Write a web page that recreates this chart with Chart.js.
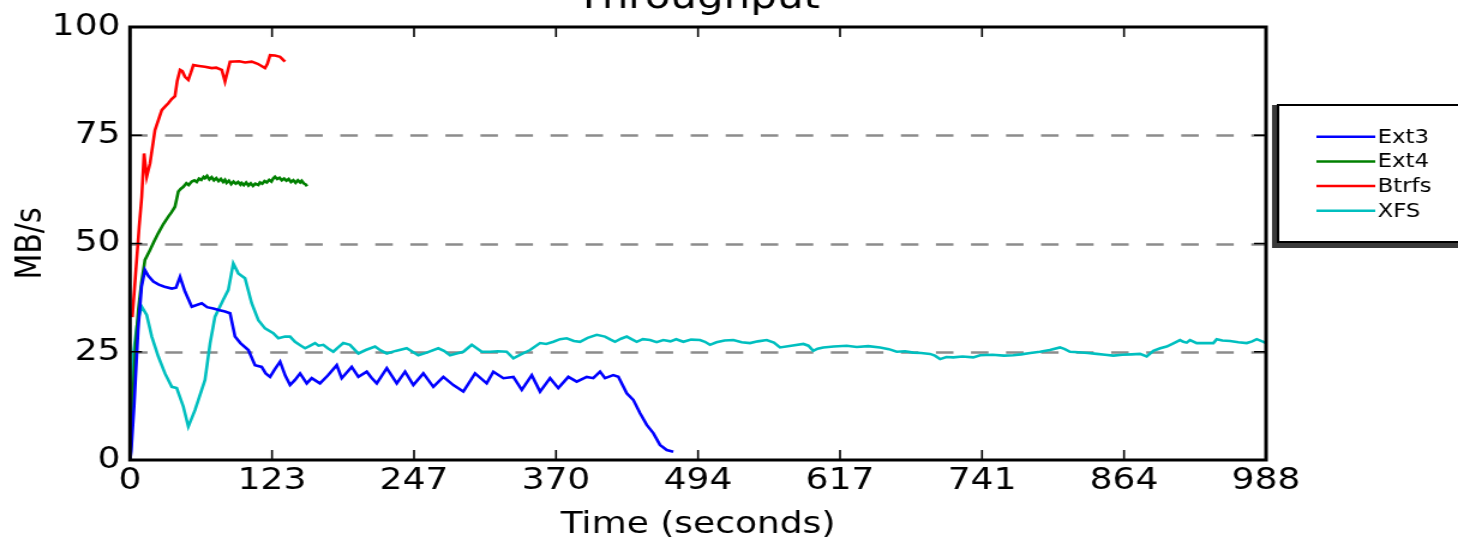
<!DOCTYPE html>
<html>
<head>
<meta charset="utf-8">
<title>Throughput</title>
<script src="https://cdn.jsdelivr.net/npm/chart.js@4/dist/chart.umd.min.js"></script>
<style>
  html, body { margin: 0; padding: 0; background: #fff; overflow: hidden; }
  #chart { display: block; }
</style>
</head>
<body>
<!-- canvas is drawn narrower and stretched, like the original figure -->
<canvas id="chart" width="1215" height="543" style="width:1458px;height:543px"></canvas>
<script>
// --- data: [seconds, MB/s] ---
var ext3 = [[0,0],[1,2],[3.5,12.3],[7,30],[10,40],[13,43.9],[16,42.5],[20.3,41.2],[25,40.5],[30,40],
  [36.3,39.6],[40,39.8],[43.5,42.3],[47.8,38.9],[53.7,35.4],[58,35.8],[62.4,36.2],[67,35.3],[72.4,35],
  [78,34.6],[82.6,34.3],[87,33.9],[91.3,28.5],[96,27],[102.9,25.4],[108.7,21.9],[114.5,21.5],[118,20],
  [121.8,19.2],[126,21],[130.5,22.7],[135,19.5],[139.2,17.3],[143.5,18.5],[147.9,20],[153.7,17.7],
  [158,18.9],[165.2,17.7],[172,19.5],[179.8,21.9],[184.1,18.9],[192.8,21.5],[198.6,19.2],[205.9,20.4],
  [210,19],[214.6,17.7],[223.3,21.2],[232,17.7],[239.2,20.4],[246.4,17.3],[255.1,20],[263.8,16.9],
  [272.5,19.2],[281.2,17.3],[289.9,15.8],[300.1,20],[310.2,17.7],[316,20.4],[324.7,18.9],[333.4,19.2],
  [340.7,16.2],[349.4,19.6],[356.6,15.8],[365.3,18.9],[372.5,16.6],[381.2,19.2],[388.5,18.1],[397.2,19.2],
  [402.9,18.9],[408.8,20.4],[413.1,18.9],[420.3,19.6],[424.7,19.2],[432,15.4],[437.7,13.9],[443.6,10.8],
  [449.4,8.1],[455.1,6.2],[460.9,3.5],[466.8,2.3],[472.5,1.9]];

var ext4 = [[0,0],[1,5],[3,17],[5,27],[7.2,34.6],[10,41],[13,46.2],[17.4,48.5],[21,50.5],[24.6,52.4],
  [29,54.5],[33.3,56.2],[36,57.2],[39.1,58.5],[42,62],[44,62.6],[46.4,63.1],[49,63.9],[51,63.5],[53.7,64.3],
  [56,64.6],[58,64.2],[60,65],[62,64.7],[64,65.4],[65.2,65.1],[67,65.6],[69,64.8],[71,65.3],[73,64.6],
  [75,65.1],[77,64.4],[79,64.9],[81,64.2],[82.6,64.7],[84,64],[86,64.5],[88,63.7],[90,64.3],[92,63.8],
  [94,64.2],[96,63.6],[97.1,64],[99,63.5],[101,64.1],[103,63.4],[105,63.9],[107,63.3],[109,63.8],
  [111.6,63.5],[113,64.1],[115,63.8],[117,64.4],[119,64.1],[121,64.7],[123,64.3],[124.5,65],[126.1,65.4],
  [128,64.9],[130,65.2],[132,64.6],[134,65],[136,64.5],[138,64.9],[140,64.2],[142,64.6],[144,64],
  [146,64.6],[148,64.1],[149.3,64.5],[151,63.9],[152.5,63.7],[154,63.2]];

var btrfs = [[2,33],[4,40],[6,47],[8,54],[10.2,60.8],[12.2,70.8],[14.5,65.4],[17.4,68.5],[21.7,76.2],
  [27.6,80.8],[30,81.5],[33.3,82.4],[36,83.3],[39.1,84],[41,87.5],[43.5,90.1],[45.5,89.8],[47.8,88.5],
  [50.7,87.8],[53,89.5],[55.1,91.2],[60,91],[65,90.8],[71.1,90.5],[75,90.6],[79.8,90.1],[82.6,87.4],
  [87,92],[95,92.1],[100,91.8],[105.8,92],[111,91.5],[117.4,90.5],[119.5,91.5],[121.8,93.5],[126,93.4],
  [130.5,93.1],[134.8,92]];

var xfs = [[0,0],[1,10],[3,24.6],[6,31],[8,33.5],[10.2,35.4],[14.5,33.5],[18.9,28.5],[24.6,23.9],[30.4,20],
  [36.3,16.9],[40.6,16.6],[46.4,12.3],[50.7,7.7],[56.5,11.5],[65.2,18.5],[69.6,26.9],[73.9,33.1],[81.1,37],
  [85.5,39.3],[89.8,45.4],[94.2,43.1],[100,42],[105.8,36.2],[111.6,32.3],[117.4,30.4],[124.6,29.3],[129,28.1],
  [134.8,28.5],[139.2,28.5],[143.5,27.3],[148,26.5],[152.2,25.8],[156,26.3],[160.9,27],[164,26.4],[168.1,26.6],
  [172,25.8],[176.8,25],[181,26],[185.5,27],[191.3,26.6],[198.6,24.6],[205,25.4],[213.1,26.2],[218,25.3],
  [223.3,24.6],[231,25.2],[240.6,25.8],[245,25.1],[250.7,24.2],[258,24.8],[268.1,25.8],[273,25.2],[278.3,24.2],
  [284,24.6],[289.9,25],[297.2,26.6],[305.9,25],[313.1,25],[320,25.1],[327.6,25],[333.4,23.5],[340,24.4],
  [347.9,25.4],[356.6,27],[362,26.8],[368.2,27.3],[374,27.9],[379.8,28.1],[386,27.5],[391.4,27.3],[398,28.2],
  [405.9,28.9],[413.1,28.5],[418,27.8],[421.8,27.3],[427,28],[432,28.5],[437,27.8],[440.7,27.3],[446,27.9],
  [452.3,27.7],[458,27.2],[463.8,27.7],[470,27.4],[475,27.9],[481.2,27.3],[488,27.8],[495.7,27.7],[500,27.3],
  [504.4,26.6],[510,27.2],[517,27.6],[524.7,27.7],[532,27.2],[539.2,27],[546,27.4],[553.7,27.7],[560,27.1],
  [565.3,26],[575,26.4],[585.6,26.8],[590,26.4],[594.2,25.2],[598,25.7],[602.9,26],[612,26.2],[623.3,26.4],
  [632,26.1],[642,26.3],[652.3,26],[660,25.6],[666.8,25],[674,25.1],[681.2,24.8],[688,24.7],[695.8,24.5],
  [700,24.1],[704.5,23.3],[710,23.8],[716,23.7],[724,23.9],[733.4,23.7],[739.3,24.2],[750,24.3],[760,24.1],
  [768.2,24.2],[775,24.4],[783,24.7],[791.4,25],[800,25.4],[808.8,26],[813,25.6],[817.5,25],[825,24.9],
  [833,24.7],[840.7,24.5],[848,24.3],[855.2,24.1],[863,24.3],[871,24.4],[878.4,24.5],[884.2,23.9],[890,25.2],
  [896,25.8],[901.6,26.2],[907,26.9],[913.2,27.7],[916.1,27.3],[919,27.1],[921.9,27.7],[927.7,27],[935,27],
  [942.2,27],[945.1,27.9],[950,27.6],[956.7,27.5],[964,27.2],[971.2,27],[976,27.4],[979.9,27.9],[985.7,27.3],
  [988,27]];

var seriesNames = ['Ext3', 'Ext4', 'Btrfs', 'XFS'];
var seriesColors = ['#0000ff', '#008000', '#ff0000', '#00bfbf'];
var xTickValues = [0, 123.5, 247, 370.5, 494, 617.5, 741, 864.5, 988];
var xTickLabels = ['0', '123', '247', '370', '494', '617', '741', '864', '988'];
var yDashedAt = [25, 50, 75];

var FONT = "'DejaVu Sans', sans-serif";

function toPoints(arr) {
  return arr.map(function(p) { return { x: p[0], y: p[1] }; });
}

// --- plugin: dashed grid, frame with inward ticks, cut-off title, shadowed legend ---
var mplLook = {
  id: 'mplLook',
  beforeDatasetsDraw: function(chart) {
    var a = chart.chartArea, ctx = chart.ctx, y = chart.scales.y;
    ctx.save();
    ctx.strokeStyle = '#8c8c8c';
    ctx.lineWidth = 2.5;
    ctx.setLineDash([14.6, 14.6]);
    yDashedAt.forEach(function(v) {
      var py = Math.round(y.getPixelForValue(v)) + 0.5;
      ctx.beginPath();
      ctx.moveTo(a.left, py);
      ctx.lineTo(a.right, py);
      ctx.stroke();
    });
    ctx.restore();
  },
  afterDatasetsDraw: function(chart) {
    var a = chart.chartArea, ctx = chart.ctx;
    var xs = chart.scales.x, ys = chart.scales.y;
    ctx.save();
    ctx.strokeStyle = '#000';
    ctx.lineWidth = 1.6;
    ctx.beginPath();
    xs.ticks.forEach(function(t) {
      var px = xs.getPixelForValue(t.value);
      ctx.moveTo(px, a.bottom); ctx.lineTo(px, a.bottom - 10);
      ctx.moveTo(px, a.top); ctx.lineTo(px, a.top + 10);
    });
    ys.ticks.forEach(function(t) {
      var py = ys.getPixelForValue(t.value);
      ctx.moveTo(a.left, py); ctx.lineTo(a.left + 10, py);
      ctx.moveTo(a.right, py); ctx.lineTo(a.right - 10, py);
    });
    ctx.stroke();
    ctx.lineWidth = 3;
    ctx.strokeRect(a.left, a.top, a.right - a.left, a.bottom - a.top);
    ctx.restore();
  },
  afterDraw: function(chart) {
    var a = chart.chartArea, ctx = chart.ctx;
    ctx.save();
    // title, mostly above the top edge
    ctx.fillStyle = '#000';
    ctx.font = '35px ' + FONT;
    ctx.textAlign = 'center';
    ctx.textBaseline = 'alphabetic';
    ctx.fillText('Throughput', (a.left + a.right) / 2, 8);

    // legend box with dark shadow on left/bottom
    var lx = 1065, ly = 105, lw = 200, lh = 137;
    ctx.fillStyle = '#3a3a3a';
    ctx.fillRect(lx - 5, ly, lw + 5, lh + 6);
    ctx.fillStyle = '#fff';
    ctx.fillRect(lx, ly, lw, lh);
    ctx.strokeStyle = '#000';
    ctx.lineWidth = 2;
    ctx.strokeRect(lx, ly, lw, lh);

    ctx.font = '19px ' + FONT;
    ctx.textAlign = 'left';
    ctx.textBaseline = 'middle';
    chart.data.datasets.forEach(function(ds, i) {
      var ry = 136.7 + i * 24.7;
      ctx.strokeStyle = ds.borderColor;
      ctx.lineWidth = 2.5;
      ctx.beginPath();
      ctx.moveTo(1097, ry);
      ctx.lineTo(1146, ry);
      ctx.stroke();
      ctx.fillStyle = '#000';
      ctx.fillText(ds.label, 1148, ry + 1);
    });
    ctx.restore();
  }
};

var allSeries = [ext3, ext4, btrfs, xfs];

new Chart(document.getElementById('chart').getContext('2d'), {
  type: 'line',
  data: {
    datasets: allSeries.map(function(s, i) {
      return {
        label: seriesNames[i],
        data: toPoints(s),
        borderColor: seriesColors[i],
        backgroundColor: seriesColors[i],
        borderWidth: 2.6,
        pointRadius: 0,
        tension: 0,
        fill: false
      };
    })
  },
  options: {
    responsive: false,
    devicePixelRatio: 1,
    animation: false,
    events: [],
    layout: { padding: { left: 0, right: 160, top: 27, bottom: 0 } },
    plugins: {
      legend: { display: false },
      title: { display: false },
      tooltip: { enabled: false }
    },
    scales: {
      x: {
        type: 'linear',
        min: 0,
        max: 988,
        grid: { display: false, drawTicks: false },
        border: { display: false },
        afterBuildTicks: function(scale) {
          scale.ticks = xTickValues.map(function(v) { return { value: v }; });
        },
        afterFit: function(scale) { scale.height = 83; },
        ticks: {
          autoSkip: false,
          maxRotation: 0,
          padding: 3,
          color: '#000',
          font: { family: FONT, size: 30 },
          callback: function(value, index) { return xTickLabels[index]; }
        },
        title: {
          display: true,
          text: 'Time (seconds)',
          color: '#000',
          font: { family: FONT, size: 30 },
          padding: { top: 0, bottom: 0 }
        }
      },
      y: {
        min: 0,
        max: 100,
        grid: { display: false, drawTicks: false },
        border: { display: false },
        afterFit: function(scale) { scale.width = 108.33; },
        ticks: {
          stepSize: 25,
          padding: 8,
          color: '#000',
          font: { family: FONT, size: 30 }
        },
        title: {
          display: true,
          text: 'MB/s',
          color: '#000',
          font: { family: FONT, size: 30 },
          padding: { top: 8, bottom: 0 }
        }
      }
    }
  },
  plugins: [mplLook]
});
</script>
</body>
</html>
